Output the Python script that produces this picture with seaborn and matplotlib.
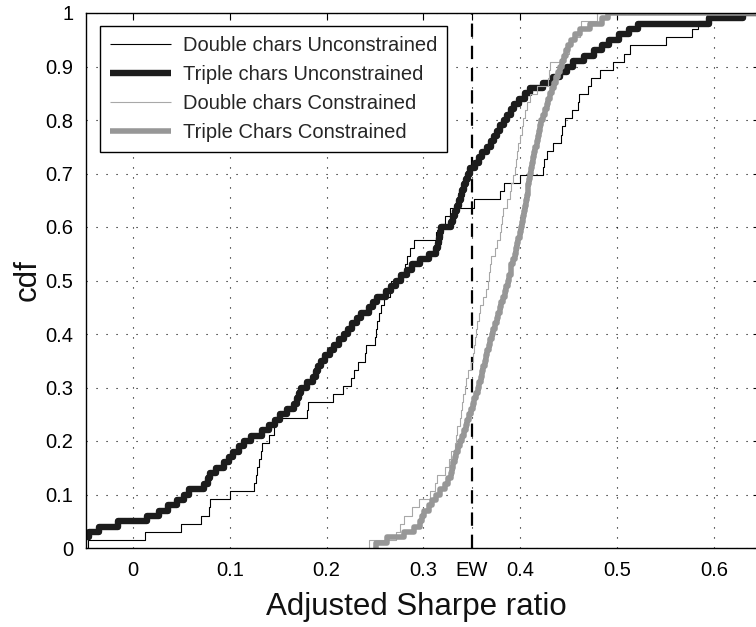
import numpy as np
import matplotlib
matplotlib.use("Agg")
import matplotlib.pyplot as plt
import seaborn as sns

# ---------------- data ----------------
series_names = ["Double chars Unconstrained", "Triple chars Unconstrained",
                "Double chars Constrained", "Triple Chars Constrained"]

double_unconstrained = [
    -0.047, 0.012, 0.050, 0.070, 0.078, 0.080, 0.100,
    0.125, 0.127, 0.128, 0.130, 0.132, 0.133, 0.140, 0.146, 0.147,
    0.180, 0.181, 0.207, 0.217, 0.225, 0.228, 0.232, 0.240, 0.241,
    0.250, 0.251, 0.252, 0.254, 0.256, 0.259, 0.265, 0.267,
    0.278, 0.281, 0.283, 0.286, 0.290, 0.313, 0.318, 0.322, 0.327,
    0.352, 0.379, 0.383, 0.400, 0.424, 0.425, 0.428, 0.434,
    0.442, 0.443, 0.446, 0.453, 0.460, 0.461, 0.470, 0.473,
    0.482, 0.496, 0.507, 0.513, 0.551, 0.577, 0.584, 0.593]

triple_unconstrained = [
    -0.080, -0.060, -0.045, -0.035, -0.015, 0.014, 0.027, 0.036, 0.045, 0.053,
    0.058, 0.073, 0.077, 0.080, 0.086, 0.094, 0.099, 0.103, 0.109, 0.115,
    0.122, 0.133, 0.140, 0.147, 0.152, 0.159, 0.166, 0.169, 0.172, 0.174,
    0.180, 0.186, 0.189, 0.191, 0.194, 0.198, 0.203, 0.208, 0.213, 0.218,
    0.222, 0.226, 0.231, 0.236, 0.244, 0.248, 0.252, 0.261, 0.267, 0.272,
    0.277, 0.283, 0.288, 0.297, 0.306, 0.313, 0.315, 0.316, 0.317, 0.318,
    0.329, 0.331, 0.333, 0.335, 0.337, 0.339, 0.340, 0.342, 0.344, 0.346,
    0.348, 0.353, 0.357, 0.361, 0.366, 0.370, 0.373, 0.376, 0.379, 0.383,
    0.386, 0.390, 0.394, 0.399, 0.405, 0.410, 0.424, 0.434, 0.441, 0.448,
    0.455, 0.466, 0.476, 0.485, 0.492, 0.502, 0.512, 0.522, 0.595, 0.630]

double_constrained = [
    0.244, 0.272, 0.276, 0.280, 0.288, 0.295, 0.307, 0.312, 0.314, 0.322,
    0.326, 0.329, 0.333, 0.334, 0.335, 0.338, 0.339, 0.340, 0.341, 0.343,
    0.344, 0.346, 0.349, 0.351, 0.352, 0.353, 0.354, 0.355, 0.357, 0.358,
    0.362, 0.365, 0.367, 0.368, 0.369, 0.370, 0.374, 0.376, 0.379, 0.380,
    0.381, 0.382, 0.386, 0.389, 0.391, 0.393, 0.395, 0.396, 0.397, 0.398,
    0.400, 0.402, 0.403, 0.405, 0.407, 0.410, 0.417, 0.429, 0.430, 0.431,
    0.443, 0.450, 0.453, 0.462, 0.463, 0.479]

triple_constrained = [
    0.251, 0.262, 0.280, 0.290, 0.296, 0.299, 0.301, 0.306, 0.309, 0.313,
    0.317, 0.322, 0.325, 0.328, 0.330, 0.331, 0.333, 0.334, 0.336, 0.338,
    0.340, 0.342, 0.344, 0.345, 0.347, 0.349, 0.351, 0.352, 0.354, 0.356,
    0.357, 0.359, 0.361, 0.362, 0.364, 0.365, 0.366, 0.368, 0.369, 0.371,
    0.372, 0.374, 0.376, 0.377, 0.379, 0.380, 0.382, 0.384, 0.385, 0.387,
    0.388, 0.390, 0.391, 0.393, 0.395, 0.396, 0.397, 0.398, 0.400, 0.401,
    0.402, 0.403, 0.404, 0.405, 0.406, 0.407, 0.408, 0.408, 0.409, 0.410,
    0.411, 0.412, 0.413, 0.414, 0.415, 0.417, 0.418, 0.419, 0.420, 0.421,
    0.424, 0.426, 0.428, 0.429, 0.431, 0.433, 0.435, 0.437, 0.439, 0.441,
    0.443, 0.445, 0.447, 0.449, 0.452, 0.457, 0.462, 0.472, 0.484, 0.491]

ew_value = 0.35
x_ticks = [0.0, 0.1, 0.2, 0.3, 0.35, 0.4, 0.5, 0.6]
x_tick_labels = ["0", "0.1", "0.2", "0.3", "EW", "0.4", "0.5", "0.6"]
y_ticks = [0.0, 0.1, 0.2, 0.3, 0.4, 0.5, 0.6, 0.7, 0.8, 0.9, 1.0]
y_tick_labels = ["0", "0.1", "0.2", "0.3", "0.4", "0.5", "0.6", "0.7", "0.8", "0.9", "1"]
x_label = "Adjusted Sharpe ratio"
y_label = "cdf"

# ---------------- styling ----------------
sns.set_theme(style="white")
plt.rcParams["font.family"] = ["Liberation Sans", "DejaVu Sans"]

line_colors = ["#000000", "#1c1c1c", "#a8a8a8", "#979797"]
line_widths = [0.8, 4.6, 0.8, 4.0]

fig = plt.figure(figsize=(7.56, 6.27), dpi=100)
ax = fig.add_axes([86 / 756, 1 - 548 / 627, 674 / 756, 535 / 627])

x_left = (86 - 133) / 968.0
x_right = (760 - 133) / 968.0

all_series = [double_unconstrained, triple_unconstrained, double_constrained, triple_constrained]
for name, vals, col, lw in zip(series_names, all_series, line_colors, line_widths):
    sns.ecdfplot(x=vals, ax=ax, color=col, linewidth=lw, label=name)
    line = ax.lines[-1]
    xd = np.asarray(line.get_xdata(), dtype=float)
    yd = np.asarray(line.get_ydata(), dtype=float)
    # start each curve at its first observation and run it on to the right edge
    xd = np.r_[xd[1], xd[1:], x_right + 0.1]
    yd = np.r_[yd[0], yd[1:], 1.0]
    line.set_data(xd, yd)
    line.set_solid_joinstyle("round")
    line.set_solid_capstyle("butt")

ax.axvline(ew_value, color="black", linewidth=1.6, linestyle=(0, (6, 4)), zorder=1)

ax.set_xlim(x_left, x_right)
ax.set_ylim(0, 1)
ax.set_xticks(x_ticks)
ax.set_xticklabels(x_tick_labels)
ax.set_yticks(y_ticks)
ax.set_yticklabels(y_tick_labels)

ax.grid(True, color="black", linewidth=0.8, linestyle=(0, (1, 8)))
ax.tick_params(direction="in", top=True, right=True, length=5, width=0.8,
               labelsize=14.5, colors="black", pad=9)
for sp in ax.spines.values():
    sp.set_color("black")
    sp.set_linewidth(1.0)
ax.spines["right"].set_visible(False)

ax.set_xlabel(x_label, fontsize=22.5, color="#111111")
ax.set_ylabel(y_label, fontsize=22.5, color="#111111", labelpad=2)
ax.xaxis.set_label_coords(0.49, -0.082)

leg = ax.legend(loc="upper left", bbox_to_anchor=(0.021, 0.976), borderaxespad=0,
                fontsize=14.5, frameon=True, fancybox=False, framealpha=1,
                edgecolor="black", handlelength=3.0, handletextpad=0.6,
                labelspacing=0.5, borderpad=0.5)
leg.get_frame().set_linewidth(1.0)

fig.savefig("out.png", dpi=100, facecolor="white")
